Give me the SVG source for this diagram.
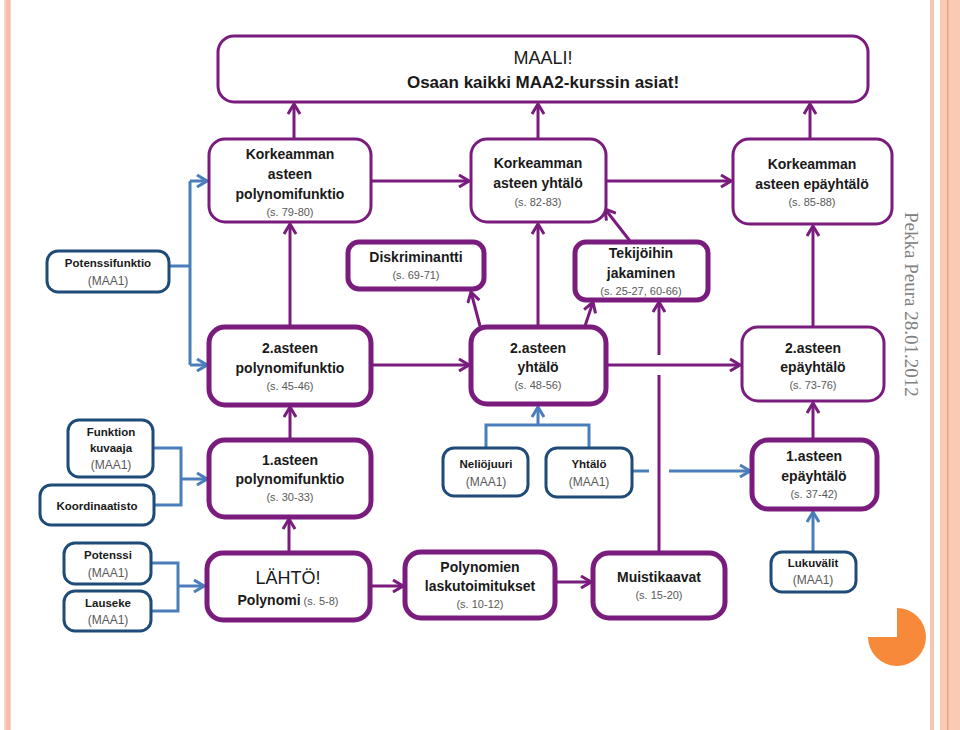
<svg xmlns="http://www.w3.org/2000/svg" width="960" height="730" viewBox="0 0 960 730">
<style>
.pb{fill:#fff;stroke:#7a1b7e;stroke-width:3}
.pk{fill:#fff;stroke:#7a1b7e;stroke-width:5}
.bb{fill:#fff;stroke:#1f4b78;stroke-width:3}
.t{font-family:"Liberation Sans",Arial,sans-serif;font-weight:bold;font-size:14px;fill:#1a1a1a;text-anchor:middle}
.ts{font-family:"Liberation Sans",Arial,sans-serif;font-weight:bold;font-size:11.5px;fill:#1a1a1a;text-anchor:middle}
.g{font-family:"Liberation Sans",Arial,sans-serif;font-size:11px;fill:#595959;text-anchor:middle}
.gm{font-family:"Liberation Sans",Arial,sans-serif;font-size:12px;fill:#595959;text-anchor:middle}
.pl{fill:none;stroke:#7a1b7e;stroke-width:3}
.bl{fill:none;stroke:#4a7ebb;stroke-width:3}
</style>
<defs>
<marker id="ap" viewBox="0 0 12 14" refX="11" refY="7" markerWidth="12" markerHeight="14" markerUnits="userSpaceOnUse" orient="auto">
<path d="M1,1 L11,7 L1,13" fill="none" stroke="#7a1b7e" stroke-width="3"/>
</marker>
<marker id="ab" viewBox="0 0 12 14" refX="11" refY="7" markerWidth="12" markerHeight="14" markerUnits="userSpaceOnUse" orient="auto">
<path d="M1,1 L11,7 L1,13" fill="none" stroke="#4a7ebb" stroke-width="3"/>
</marker>
</defs>
<rect width="960" height="730" fill="#fff"/>
<!-- page decoration -->
<rect x="4" y="0" width="7" height="730" fill="#f9d4c6"/>
<rect x="6" y="0" width="4" height="730" fill="#f7bfab"/>
<rect x="930" y="0" width="4" height="730" fill="#f4c5b2"/>
<rect x="940" y="0" width="20" height="730" fill="#fbcab5"/>
<rect x="947" y="0" width="1.5" height="730" fill="#efa47e"/>
<path d="M897,637 L897,608 A29,29 0 1,1 868,637 Z" fill="#f7893a"/>
<text transform="translate(905,212) rotate(90)" font-family="'Liberation Serif','Times New Roman',serif" font-size="19" fill="#808080">Pekka Peura 28.01.2012</text>

<g id="connectors">
<path class="pl" d="M294,139 V104" marker-end="url(#ap)"/>
<path class="pl" d="M538,139 V104" marker-end="url(#ap)"/>
<path class="pl" d="M810,139 V104" marker-end="url(#ap)"/>
<path class="pl" d="M371,181 H469" marker-end="url(#ap)"/>
<path class="pl" d="M606,181 H731" marker-end="url(#ap)"/>
<path class="pl" d="M290,326 V224" marker-end="url(#ap)"/>
<path class="pl" d="M371,365 H469" marker-end="url(#ap)"/>
<path class="pl" d="M538,326 V224" marker-end="url(#ap)"/>
<path class="pl" d="M480,326 L471,292" marker-end="url(#ap)"/>
<path class="pl" d="M585,326 L593,302" marker-end="url(#ap)"/>
<path class="pl" d="M630,241 L605,209" marker-end="url(#ap)"/>
<path class="pl" d="M606,365 H740" marker-end="url(#ap)"/>
<path class="pl" d="M813,327 V226" marker-end="url(#ap)"/>
<path class="pl" d="M813,439 V403" marker-end="url(#ap)"/>
<path class="pl" d="M290,440 V407" marker-end="url(#ap)"/>
<path class="pl" d="M289,552 V519" marker-end="url(#ap)"/>
<path class="pl" d="M370,586 H403" marker-end="url(#ap)"/>
<path class="pl" d="M555,582 H591" marker-end="url(#ap)"/>
<path class="pl" d="M659,552 V375"/>
<path class="pl" d="M659,355 V302" marker-end="url(#ap)"/>
<path class="bl" d="M169,266 H190 M190,181 V365"/>
<path class="bl" d="M190,181 H207" marker-end="url(#ab)"/>
<path class="bl" d="M190,365 H207" marker-end="url(#ab)"/>
<path class="bl" d="M153,448 H181 V505 H154"/>
<path class="bl" d="M181,479 H207" marker-end="url(#ab)"/>
<path class="bl" d="M151,563 H178 V611 H151"/>
<path class="bl" d="M178,586 H204" marker-end="url(#ab)"/>
<path class="bl" d="M486,448 V425 H589 V448"/>
<path class="bl" d="M538,425 V407" marker-end="url(#ab)"/>
<path class="bl" d="M632,471 H649"/>
<path class="bl" d="M669,471 H750" marker-end="url(#ab)"/>
<path class="bl" d="M813,552 V512" marker-end="url(#ab)"/>
</g>

<g id="goal">
<rect class="pb" x="218" y="36" width="650" height="66" rx="16"/>
<text x="543" y="64" font-family="'Liberation Sans',Arial,sans-serif" font-size="18" fill="#1a1a1a" text-anchor="middle">MAALI!</text>
<text x="543" y="88" font-family="'Liberation Sans',Arial,sans-serif" font-size="17" font-weight="bold" fill="#1a1a1a" text-anchor="middle">Osaan kaikki MAA2-kurssin asiat!</text>
</g>

<g id="korkeamman-polynomifunktio">
<rect class="pb" x="209" y="139" width="162" height="83" rx="16"/>
<text class="t" x="290" y="159">Korkeamman</text>
<text class="t" x="290" y="179">asteen</text>
<text class="t" x="290" y="199">polynomifunktio</text>
<text class="g" x="290" y="216">(s. 79-80)</text>
</g>

<g id="korkeamman-yhtalo">
<rect class="pb" x="471" y="139" width="135" height="83" rx="16"/>
<text class="t" x="538" y="168">Korkeamman</text>
<text class="t" x="538" y="188">asteen yhtälö</text>
<text class="g" x="538" y="206">(s. 82-83)</text>
</g>

<g id="korkeamman-epayhtalo">
<rect class="pb" x="733" y="139" width="159" height="85" rx="16"/>
<text class="t" x="812" y="169">Korkeamman</text>
<text class="t" x="812" y="189">asteen epäyhtälö</text>
<text class="g" x="812" y="206">(s. 85-88)</text>
</g>

<g id="diskriminantti">
<rect class="pk" x="348" y="242" width="136" height="47" rx="11"/>
<text class="t" x="416" y="262">Diskriminantti</text>
<text class="g" x="416" y="279">(s. 69-71)</text>
</g>

<g id="tekijoihin-jakaminen">
<rect class="pk" x="575" y="242" width="133" height="58" rx="11"/>
<text class="t" x="641" y="258">Tekijöihin</text>
<text class="t" x="641" y="278">jakaminen</text>
<text class="g" x="641" y="295">(s. 25-27, 60-66)</text>
</g>

<g id="potenssifunktio">
<rect class="bb" x="47" y="251" width="122" height="41" rx="11"/>
<text class="ts" x="108" y="267">Potenssifunktio</text>
<text class="gm" x="108" y="285">(MAA1)</text>
</g>

<g id="toisen-asteen-polynomifunktio">
<rect class="pk" x="209" y="327" width="162" height="78" rx="16"/>
<text class="t" x="290" y="353">2.asteen</text>
<text class="t" x="290" y="373">polynomifunktio</text>
<text class="g" x="290" y="390">(s. 45-46)</text>
</g>

<g id="toisen-asteen-yhtalo">
<rect class="pk" x="471" y="327" width="135" height="77" rx="16"/>
<text class="t" x="538" y="353">2.asteen</text>
<text class="t" x="538" y="372">yhtälö</text>
<text class="g" x="538" y="389">(s. 48-56)</text>
</g>

<g id="toisen-asteen-epayhtalo">
<rect class="pb" x="742" y="327" width="142" height="74" rx="16"/>
<text class="t" x="813" y="353">2.asteen</text>
<text class="t" x="813" y="372">epäyhtälö</text>
<text class="g" x="813" y="389">(s. 73-76)</text>
</g>

<g id="funktion-kuvaaja">
<rect class="bb" x="68" y="420" width="85" height="57" rx="11"/>
<text class="ts" x="111" y="436">Funktion</text>
<text class="ts" x="111" y="452">kuvaaja</text>
<text class="gm" x="111" y="469">(MAA1)</text>
</g>

<g id="koordinaatisto">
<rect class="bb" x="40" y="485" width="114" height="40" rx="11"/>
<text class="ts" x="97" y="510">Koordinaatisto</text>
</g>

<g id="ensimmaisen-asteen-polynomifunktio">
<rect class="pk" x="209" y="440" width="162" height="77" rx="16"/>
<text class="t" x="290" y="465">1.asteen</text>
<text class="t" x="290" y="484">polynomifunktio</text>
<text class="g" x="290" y="501">(s. 30-33)</text>
</g>

<g id="neliojuuri">
<rect class="bb" x="443" y="448" width="85" height="48" rx="11"/>
<text class="ts" x="486" y="468">Neliöjuuri</text>
<text class="gm" x="486" y="486">(MAA1)</text>
</g>

<g id="yhtalo">
<rect class="bb" x="546" y="448" width="86" height="49" rx="11"/>
<text class="ts" x="589" y="468">Yhtälö</text>
<text class="gm" x="589" y="486">(MAA1)</text>
</g>

<g id="ensimmaisen-asteen-epayhtalo">
<rect class="pk" x="752" y="440" width="125" height="69" rx="16"/>
<text class="t" x="814" y="461">1.asteen</text>
<text class="t" x="814" y="481">epäyhtälö</text>
<text class="g" x="814" y="498">(s. 37-42)</text>
</g>

<g id="potenssi">
<rect class="bb" x="64" y="543" width="87" height="41" rx="11"/>
<text class="ts" x="108" y="559">Potenssi</text>
<text class="gm" x="108" y="577">(MAA1)</text>
</g>

<g id="lauseke">
<rect class="bb" x="64" y="591" width="87" height="40" rx="11"/>
<text class="ts" x="108" y="607">Lauseke</text>
<text class="gm" x="108" y="624">(MAA1)</text>
</g>

<g id="lahto">
<rect class="pk" x="207" y="553" width="163" height="67" rx="16"/>
<text x="288" y="584" font-family="'Liberation Sans',Arial,sans-serif" font-size="18" fill="#1a1a1a" text-anchor="middle">LÄHTÖ!</text>
<text x="288" y="605" text-anchor="middle" font-family="'Liberation Sans',Arial,sans-serif"><tspan font-weight="bold" font-size="14" fill="#1a1a1a">Polynomi</tspan><tspan font-size="11" fill="#595959"> (s. 5-8)</tspan></text>
</g>

<g id="polynomien-laskutoimitukset">
<rect class="pk" x="405" y="552" width="150" height="66" rx="16"/>
<text class="t" x="480" y="572">Polynomien</text>
<text class="t" x="480" y="591">laskutoimitukset</text>
<text class="g" x="480" y="608">(s. 10-12)</text>
</g>

<g id="muistikaavat">
<rect class="pk" x="593" y="553" width="132" height="65" rx="16"/>
<text class="t" x="659" y="582">Muistikaavat</text>
<text class="g" x="659" y="599">(s. 15-20)</text>
</g>

<g id="lukuvalit">
<rect class="bb" x="771" y="552" width="85" height="40" rx="11"/>
<text class="ts" x="813" y="567">Lukuvälit</text>
<text class="gm" x="813" y="584">(MAA1)</text>
</g>
</svg>
